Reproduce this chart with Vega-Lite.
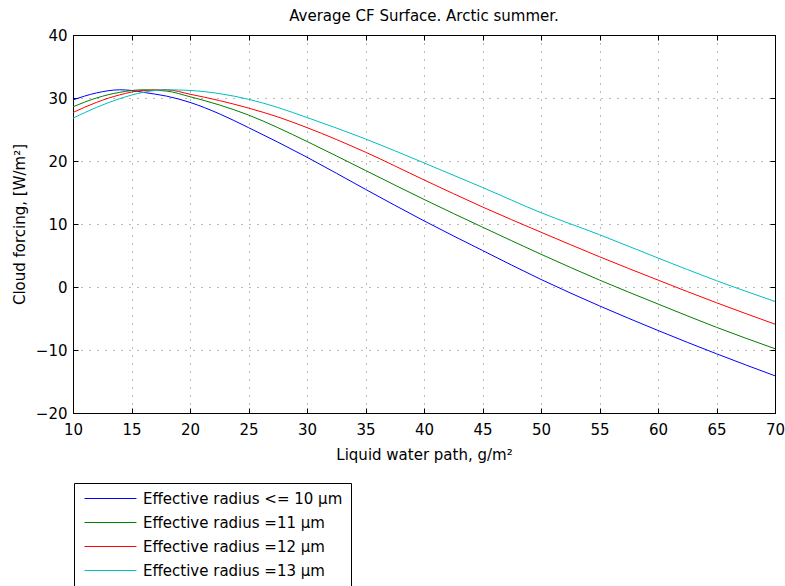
{
  "$schema": "https://vega.github.io/schema/vega-lite/v6.json",
  "width": 702,
  "height": 378,
  "autosize": {"type": "none"},
  "padding": {"left": 73, "top": 35, "right": 10, "bottom": 173},
  "background": "white",
  "title": {"text": "Average CF Surface. Arctic summer.", "font": "DejaVu Sans", "fontSize": 15, "fontWeight": "normal", "color": "black", "anchor": "middle", "frame": "group", "baseline": "bottom", "offset": 10, "dy": 21},
  "config": {
    "view": {"stroke": "black", "strokeWidth": 1},
    "axis": {"labelFont": "DejaVu Sans", "labelFontSize": 15, "labelColor": "black", "titleFont": "DejaVu Sans", "titleFontSize": 15, "titleFontWeight": "normal", "titleColor": "black", "domainColor": "black", "tickColor": "black", "gridColor": "#000000", "gridOpacity": 0.55, "gridDash": [1, 7], "gridWidth": 1}
  },
  "data": {"values": [
    {"lwp": 10, "cf": 29.7, "s": "Effective radius <= 10 µm"},
    {"lwp": 12, "cf": 30.8, "s": "Effective radius <= 10 µm"},
    {"lwp": 14, "cf": 31.3, "s": "Effective radius <= 10 µm"},
    {"lwp": 15, "cf": 31.2, "s": "Effective radius <= 10 µm"},
    {"lwp": 16, "cf": 30.9, "s": "Effective radius <= 10 µm"},
    {"lwp": 18, "cf": 30.3, "s": "Effective radius <= 10 µm"},
    {"lwp": 20, "cf": 29.3, "s": "Effective radius <= 10 µm"},
    {"lwp": 22.5, "cf": 27.5, "s": "Effective radius <= 10 µm"},
    {"lwp": 25, "cf": 25.3, "s": "Effective radius <= 10 µm"},
    {"lwp": 27.5, "cf": 23.0, "s": "Effective radius <= 10 µm"},
    {"lwp": 30, "cf": 20.6, "s": "Effective radius <= 10 µm"},
    {"lwp": 35, "cf": 15.5, "s": "Effective radius <= 10 µm"},
    {"lwp": 40, "cf": 10.5, "s": "Effective radius <= 10 µm"},
    {"lwp": 45, "cf": 5.8, "s": "Effective radius <= 10 µm"},
    {"lwp": 50, "cf": 1.2, "s": "Effective radius <= 10 µm"},
    {"lwp": 55, "cf": -3.0, "s": "Effective radius <= 10 µm"},
    {"lwp": 60, "cf": -6.9, "s": "Effective radius <= 10 µm"},
    {"lwp": 65, "cf": -10.6, "s": "Effective radius <= 10 µm"},
    {"lwp": 70, "cf": -14.1, "s": "Effective radius <= 10 µm"},
    {"lwp": 10, "cf": 28.6, "s": "Effective radius =11 µm"},
    {"lwp": 12, "cf": 30.0, "s": "Effective radius =11 µm"},
    {"lwp": 14, "cf": 30.9, "s": "Effective radius =11 µm"},
    {"lwp": 16, "cf": 31.3, "s": "Effective radius =11 µm"},
    {"lwp": 18, "cf": 31.1, "s": "Effective radius =11 µm"},
    {"lwp": 20, "cf": 30.2, "s": "Effective radius =11 µm"},
    {"lwp": 22.5, "cf": 28.9, "s": "Effective radius =11 µm"},
    {"lwp": 25, "cf": 27.3, "s": "Effective radius =11 µm"},
    {"lwp": 27.5, "cf": 25.3, "s": "Effective radius =11 µm"},
    {"lwp": 30, "cf": 23.1, "s": "Effective radius =11 µm"},
    {"lwp": 35, "cf": 18.5, "s": "Effective radius =11 µm"},
    {"lwp": 40, "cf": 13.9, "s": "Effective radius =11 µm"},
    {"lwp": 45, "cf": 9.5, "s": "Effective radius =11 µm"},
    {"lwp": 50, "cf": 5.2, "s": "Effective radius =11 µm"},
    {"lwp": 55, "cf": 1.1, "s": "Effective radius =11 µm"},
    {"lwp": 60, "cf": -2.7, "s": "Effective radius =11 µm"},
    {"lwp": 65, "cf": -6.4, "s": "Effective radius =11 µm"},
    {"lwp": 70, "cf": -9.8, "s": "Effective radius =11 µm"},
    {"lwp": 10, "cf": 27.7, "s": "Effective radius =12 µm"},
    {"lwp": 12, "cf": 29.3, "s": "Effective radius =12 µm"},
    {"lwp": 14, "cf": 30.5, "s": "Effective radius =12 µm"},
    {"lwp": 16, "cf": 31.2, "s": "Effective radius =12 µm"},
    {"lwp": 18, "cf": 31.3, "s": "Effective radius =12 µm"},
    {"lwp": 20, "cf": 30.6, "s": "Effective radius =12 µm"},
    {"lwp": 22.5, "cf": 29.6, "s": "Effective radius =12 µm"},
    {"lwp": 25, "cf": 28.4, "s": "Effective radius =12 µm"},
    {"lwp": 27.5, "cf": 27.0, "s": "Effective radius =12 µm"},
    {"lwp": 30, "cf": 25.3, "s": "Effective radius =12 µm"},
    {"lwp": 35, "cf": 21.4, "s": "Effective radius =12 µm"},
    {"lwp": 40, "cf": 17.0, "s": "Effective radius =12 µm"},
    {"lwp": 45, "cf": 12.7, "s": "Effective radius =12 µm"},
    {"lwp": 50, "cf": 8.7, "s": "Effective radius =12 µm"},
    {"lwp": 55, "cf": 4.8, "s": "Effective radius =12 µm"},
    {"lwp": 60, "cf": 1.1, "s": "Effective radius =12 µm"},
    {"lwp": 65, "cf": -2.5, "s": "Effective radius =12 µm"},
    {"lwp": 70, "cf": -5.9, "s": "Effective radius =12 µm"},
    {"lwp": 10, "cf": 26.8, "s": "Effective radius =13 µm"},
    {"lwp": 12, "cf": 28.5, "s": "Effective radius =13 µm"},
    {"lwp": 14, "cf": 29.9, "s": "Effective radius =13 µm"},
    {"lwp": 16, "cf": 30.9, "s": "Effective radius =13 µm"},
    {"lwp": 18, "cf": 31.3, "s": "Effective radius =13 µm"},
    {"lwp": 20, "cf": 31.2, "s": "Effective radius =13 µm"},
    {"lwp": 22.5, "cf": 30.7, "s": "Effective radius =13 µm"},
    {"lwp": 25, "cf": 29.8, "s": "Effective radius =13 µm"},
    {"lwp": 27.5, "cf": 28.5, "s": "Effective radius =13 µm"},
    {"lwp": 30, "cf": 26.9, "s": "Effective radius =13 µm"},
    {"lwp": 35, "cf": 23.5, "s": "Effective radius =13 µm"},
    {"lwp": 40, "cf": 19.7, "s": "Effective radius =13 µm"},
    {"lwp": 45, "cf": 15.8, "s": "Effective radius =13 µm"},
    {"lwp": 50, "cf": 11.8, "s": "Effective radius =13 µm"},
    {"lwp": 55, "cf": 8.3, "s": "Effective radius =13 µm"},
    {"lwp": 60, "cf": 4.6, "s": "Effective radius =13 µm"},
    {"lwp": 65, "cf": 1.0, "s": "Effective radius =13 µm"},
    {"lwp": 70, "cf": -2.3, "s": "Effective radius =13 µm"}
  ]},
  "layer": [
    {
      "mark": {"type": "line", "strokeWidth": 1, "interpolate": "monotone"},
      "encoding": {
        "x": {"field": "lwp", "type": "quantitative", "scale": {"domain": [10, 70], "nice": false, "zero": false},
              "axis": {"title": "Liquid water path, g/m²", "values": [10, 15, 20, 25, 30, 35, 40, 45, 50, 55, 60, 65, 70], "tickSize": -5, "labelPadding": 14, "titlePadding": 10, "grid": true, "labelFlush": false}},
        "y": {"field": "cf", "type": "quantitative", "scale": {"domain": [-20, 40], "nice": false, "zero": false},
              "axis": {"title": "Cloud forcing, [W/m²]", "values": [-20, -10, 0, 10, 20, 30, 40], "tickSize": -5, "labelPadding": 11, "titlePadding": 8, "grid": true}},
        "color": {"field": "s", "type": "nominal",
                  "scale": {"domain": ["Effective radius <= 10 µm", "Effective radius =11 µm", "Effective radius =12 µm", "Effective radius =13 µm"], "range": ["#0000ff", "#008000", "#ff0000", "#00bfbf"]},
                  "legend": {"title": null, "orient": "none", "legendX": 1, "legendY": 448, "direction": "vertical",
                             "strokeColor": "black", "fillColor": "white", "padding": 8, "cornerRadius": 0,
                             "symbolType": "M-5,0H5", "symbolSize": 108, "symbolStrokeWidth": 1, "symbolOffset": 21, "symbolFillColor": "transparent",
                             "labelFont": "DejaVu Sans", "labelFontSize": 15, "labelColor": "black", "labelOffset": 25, "rowPadding": 8, "labelLimit": 400}}
      }
    },
    {
      "mark": {"type": "line", "strokeOpacity": 0},
      "encoding": {
        "x": {"field": "lwp", "type": "quantitative", "axis": {"orient": "top", "title": null, "labels": false, "grid": false, "values": [10, 15, 20, 25, 30, 35, 40, 45, 50, 55, 60, 65, 70], "tickSize": -5}},
        "y": {"field": "cf", "type": "quantitative", "axis": {"orient": "right", "title": null, "labels": false, "grid": false, "values": [-20, -10, 0, 10, 20, 30, 40], "tickSize": -5}},
        "detail": {"field": "s"}
      }
    }
  ],
  "resolve": {"axis": {"x": "independent", "y": "independent"}}
}
